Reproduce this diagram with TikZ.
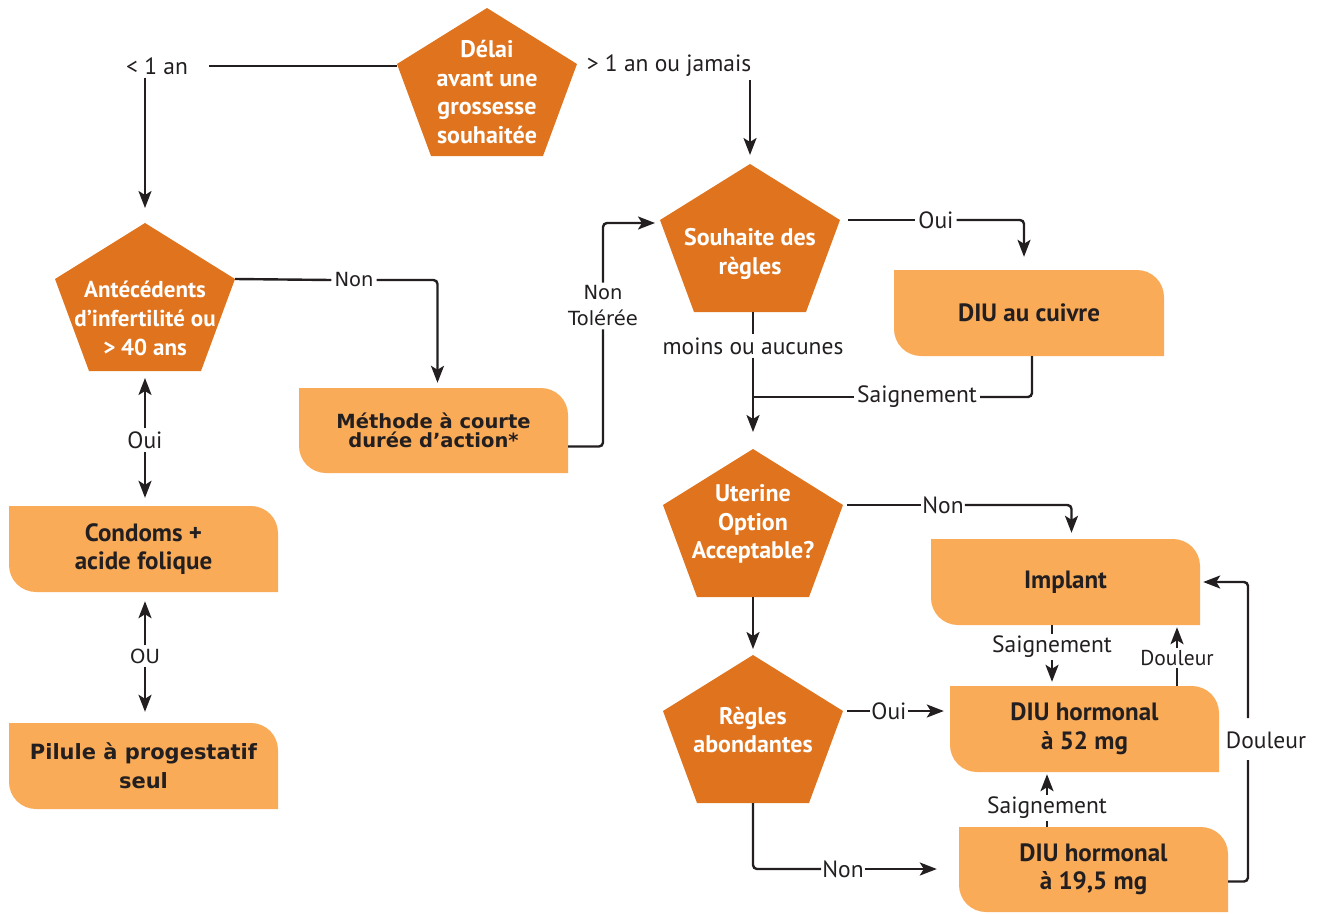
\documentclass[tikz,border=0pt]{standalone}
\usepackage{fontspec}
\setmainfont{PT Sans}
\newfontfamily\verdana{DejaVu Sans}
\usetikzlibrary{arrows.meta}

\definecolor{orangefonce}{HTML}{E0741E}
\definecolor{orangeclair}{HTML}{F9AB57}
\definecolor{encre}{HTML}{231F20}

% Pentagone : [options], nom, x, y du sommet, y du texte, texte
\newcommand{\pentagone}[6][]{%
  \fill[orangefonce] (#3,#4) coordinate (#2-h) -- ++(90,56) coordinate (#2-d)
    -- ++(-34,92) -- ++(-112,0) -- ++(-34,-92) coordinate (#2-g) -- cycle;
  \coordinate (#2-b) at (#3,{#4+148});
  \node[pentatexte, #1] (#2) at (#3,#5) {#6};}

% Boite : [options], nom, x1, y1, x2, y2, texte
\newcommand{\boite}[7][]{%
  \fill[orangeclair] (#3,#4) -- ({#5-27},#4) arc[start angle=90,end angle=0,radius=27pt]
    -- (#5,#6) -- ({#3+27},#6) arc[start angle=270,end angle=180,radius=27pt] -- cycle;
  \node[boitetexte, minimum width={(#5-#3)*1pt}, minimum height={(#6-#4)*1pt}, #1]
    (#2) at ({(#3+#5)/2},{(#4+#6)/2}) {#7};}

\begin{document}
\begin{tikzpicture}[x=1pt,y=-1pt,
	pentatexte/.style={text=white, font=\bfseries\fontsize{24}{28.5}\selectfont, align=center, inner sep=0pt},
	pentaserre/.style={font=\bfseries\fontsize{23}{29}\selectfont},
	boitetexte/.style={text=encre, font=\bfseries\fontsize{25}{28.5}\selectfont, align=center, inner sep=0pt},
	boiteverdana/.style={font=\verdana\bfseries\fontsize{21}{29}\selectfont},
	boiteserree/.style={font=\verdana\bfseries\fontsize{19.5}{19}\selectfont},
	etiq/.style={text=encre, font=\fontsize{23.5}{27}\selectfont, inner sep=3pt},
	etiqverdana/.style={etiq, font=\verdana\fontsize{19.5}{26}\selectfont, align=center},
	lien/.style={draw=encre, line width=2.4pt},
	fleche/.style={lien, -{Stealth[length=17pt,width=13pt,inset=4pt]}}]
	
	\useasboundingbox (0,0) rectangle (1322,913);
	
	% Pentagones
	\pentagone{delai}{487}{8}{92}{Délai\\avant une\\grossesse\\souhaitée}
	\pentagone[pentaserre]{antec}{145}{223}{318}{Antécédents\\d’infertilité ou\\> 40 ans}
	\pentagone{souhait}{750}{164}{254}{Souhaite des\\règles}
	\pentagone{uterine}{753}{449}{524}{Uterine\\Option\\Acceptable?}
	\pentagone{regles}{753}{655}{730}{Règles\\abondantes}
	
	% Boites
	\boite{condoms}{9}{506}{278}{592}{Condoms +\\acide folique}
	\boite[boiteverdana]{pilule}{9}{723}{278}{809}{Pilule à progestatif\\seul}
	\boite[boiteserree]{methode}{299}{388}{568}{473}{Méthode à courte\\durée d’action*}
	\boite{cuivre}{894}{270}{1164}{356}{DIU au cuivre}
	\boite{implant}{931}{539}{1200}{625}{Implant}
	\boite{diu52}{950}{686}{1219}{772}{DIU hormonal\\à 52 mg}
	\boite{diu19}{959}{827}{1228}{912}{DIU hormonal\\à 19,5 mg}
	
	% Etiquettes
	\node[etiq] (lmoins) at (157,66) {< 1 an};
	\node[etiq] (lplus) at (669,66) {> 1 an ou jamais};
	\node[etiqverdana] (lnonA) at (354,280) {Non};
	\node[etiq] (louiA) at (145,440) {Oui};
	\node[etiqverdana] (lou) at (145,656) {OU};
	\node[etiqverdana] (lnonT) at (603,306) {Non\\Tolérée};
	\node[etiq] (louiB) at (936,220) {Oui};
	\node[etiq] (lmoinsou) at (753,346) {moins ou aucunes};
	\node[etiq] (lsaignA) at (917,397) {Saignement};
	\node[etiq, inner sep=1pt] (lnonB) at (943,505) {Non};
	\node[etiq, inner sep=1pt] (louiC) at (889,711) {Oui};
	\node[etiq, inner sep=1pt] (lnonC) at (843,869) {Non};
	\node[etiq, inner sep=2pt] (lsaignB) at (1052,647) {Saignement};
	\node[etiq, inner sep=2pt, font=\fontsize{21.5}{24}\selectfont] (ldoulA) at (1177,658) {Douleur};
	\node[etiq, inner sep=2pt] (lsaignC) at (1047,808) {Saignement};
	\node[etiq] (ldoulB) at (1266,740) {Douleur};
	\coordinate (boucle) at (1248,740);
	
	% Liens
	\draw[lien, shorten <=18pt] (lmoins.east) -- (lmoins.east -| delai-g);
	\draw[fleche, shorten >=15pt] (lmoins.south -| antec-h) -- (antec-h);
	\draw[fleche, shorten >=9pt] (lplus.south -| souhait-h) -- (souhait-h);
	
	\draw[lien] (antec-d) -- (lnonA.west);
	\draw[fleche, rounded corners=4pt, shorten >=5pt] (lnonA.east) -| ([xshift=4pt]methode.north);
	\draw[fleche, shorten >=7pt] (louiA.north) -- (antec-b);
	\draw[fleche, shorten >=8pt] (louiA.south) -- (louiA.south |- condoms.north);
	\draw[fleche, shorten >=9pt] (lou.north) -- (lou.north |- condoms.south);
	\draw[fleche, shorten >=11pt] (lou.south) -- (lou.south |- pilule.north);
	
	\draw[lien, rounded corners=4pt] ([yshift=-16pt]methode.east) -| (lnonT.south);
	\draw[fleche, rounded corners=4pt, shorten >=5pt] (lnonT.north) |- ([yshift=-3pt]souhait-g);
	
	\draw[lien, shorten <=8pt] (souhait-d) -- (louiB.west);
	\draw[fleche, rounded corners=4pt, shorten >=13pt] (louiB.east) -| ([xshift=-5pt]cuivre.north);
	\draw[lien] (uterine-h |- souhait-b) -- (uterine-h |- lmoinsou.north);
	\draw[fleche, shorten >=17pt] (uterine-h |- lmoinsou.south) -- (uterine-h);
	\draw[lien, rounded corners=4pt] ([xshift=3pt]cuivre.south) |- (lsaignA.east);
	\draw[lien] (lsaignA.west) -- (uterine-h |- lsaignA.west);
	
	\draw[lien, shorten <=4pt] (uterine-d) -- (lnonB.west);
	\draw[fleche, rounded corners=4pt, shorten >=6pt] (lnonB.east) -| ([xshift=6pt]implant.north);
	\draw[fleche, shorten >=6pt] (uterine-b) -- (regles-h);
	\draw[lien, shorten <=4pt] (regles-d) -- (louiC.west);
	\draw[fleche, shorten >=6pt] (louiC.east) -- (louiC.east -| diu52.west);
	\draw[lien, rounded corners=4pt] (regles-b) |- (lnonC.west);
	\draw[fleche, shorten >=22pt] (lnonC.east) -- (lnonC.east -| diu19.west);
	
	\draw[lien] (lsaignB.north |- implant.south) -- (lsaignB.north);
	\draw[fleche, shorten >=4pt] (lsaignB.south) -- (lsaignB.south |- diu52.north);
	\draw[lien] (ldoulA.south |- diu52.north) -- (ldoulA.south);
	\draw[fleche, shorten >=2pt] (ldoulA.north) -- (ldoulA.north |- implant.south);
	\draw[lien] (lsaignC.south |- diu19.north) -- (lsaignC.south);
	\draw[fleche, shorten >=2pt] (lsaignC.north) -- (lsaignC.north |- diu52.south);
	\draw[lien, rounded corners=4pt, shorten >=20pt] ([yshift=-12pt]diu19.east) -| (boucle);
	\draw[fleche, rounded corners=4pt, shorten <=22pt, shorten >=3pt] (boucle) |- (implant.east);
	
\end{tikzpicture}
\end{document}
